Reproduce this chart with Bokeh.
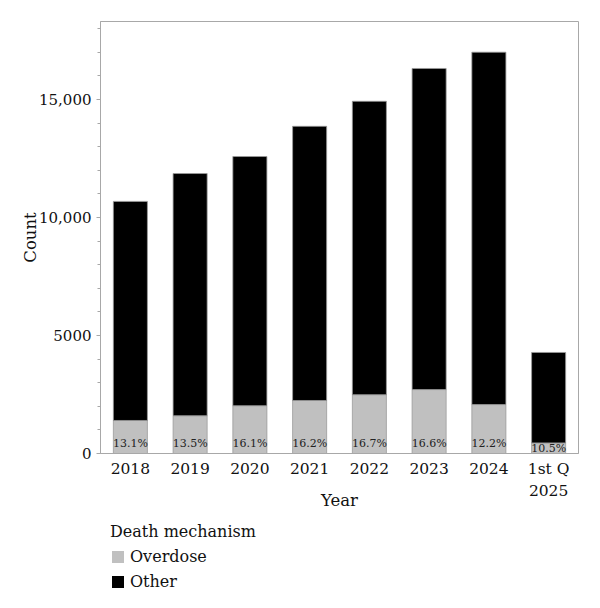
import numpy as np
from bokeh.plotting import figure
from bokeh.layouts import column
from bokeh.models import (ColumnDataSource, Range1d, FixedTicker,
                          Legend, LegendItem, LinearAxis)
from bokeh.core.properties import value
from bokeh.embed import file_html
from bokeh.resources import INLINE

years = ["2018", "2019", "2020", "2021", "2022", "2023", "2024", "1st Q 2025"]
year_line1 = ["2018", "2019", "2020", "2021", "2022", "2023", "2024", "1st Q"]
year_line2 = ["", "", "", "", "", "", "", "2025"]
totals = [10680, 11860, 12580, 13860, 14920, 16310, 17000, 4280]
overdose_pct = [13.1, 13.5, 16.1, 16.2, 16.7, 16.6, 12.2, 10.5]
pct_labels = ["13.1%", "13.5%", "16.1%", "16.2%", "16.7%", "16.6%", "12.2%", "10.5%"]
y_ticks = [0, 5000, 10000, 15000]
y_tick_labels = ["0", "5000", "10,000", "15,000"]
series = ["Overdose", "Other"]
colors = ["#c0c0c0", "#000000"]

tot = np.array(totals, dtype=float)
overdose = tot * np.array(overdose_pct) / 100.0
other = tot - overdose
xpos = np.arange(len(years))

src = ColumnDataSource(dict(
    x=xpos, year=years, Overdose=overdose, Other=other,
    label=pct_labels, ly=np.minimum(overdose / 2.0, 420.0),
))

FONT = "DejaVu Serif"
TXT = "#111111"
GRAY = "#a8a8a8"

p = figure(width=600, height=512, x_range=Range1d(-0.5, len(years) - 0.5),
           y_range=Range1d(0, 18300), output_backend="svg", toolbar_location=None,
           min_border_left=100, min_border_right=22, min_border_top=21,
           min_border_bottom=59)

rs = p.vbar_stack(series, x="x", width=0.57, color=colors, source=src,
                  line_color="#9a9a9a", line_width=0.8)

p.text(x="x", y="ly", text="label", source=src, text_align="center",
       text_baseline="middle", text_font=value(FONT), text_font_size="11px",
       text_color="#222222")

p.xgrid.visible = False
p.ygrid.visible = False
p.outline_line_color = GRAY
p.background_fill_color = "white"

# y axis
p.yaxis.ticker = FixedTicker(ticks=y_ticks, minor_ticks=list(range(0, 18001, 1000)))
p.yaxis.major_label_overrides = {t: l for t, l in zip(y_ticks, y_tick_labels)}
p.yaxis.axis_label = "Count"
p.yaxis.axis_label_standoff = -4
p.yaxis.axis_line_color = GRAY
p.yaxis.major_tick_line_color = GRAY
p.yaxis.minor_tick_line_color = GRAY
p.yaxis.major_tick_in = 0
p.yaxis.major_tick_out = 4
p.yaxis.minor_tick_in = 0
p.yaxis.minor_tick_out = 3
p.yaxis.major_label_text_font = FONT
p.yaxis.major_label_text_font_size = "15px"
p.yaxis.major_label_text_color = TXT
p.yaxis.axis_label_text_font = FONT
p.yaxis.axis_label_text_font_size = "16.5px"
p.yaxis.axis_label_text_font_style = "normal"
p.yaxis.axis_label_text_color = TXT

# x axis: first line of tick labels
xa = p.xaxis[0]
xa.ticker = FixedTicker(ticks=list(xpos), minor_ticks=[])
xa.major_label_overrides = {int(i): l for i, l in zip(xpos, year_line1)}
xa.axis_line_color = GRAY
xa.major_tick_line_color = None
xa.minor_tick_line_color = None
xa.major_label_standoff = 0
xa.major_label_text_font = FONT
xa.major_label_text_font_size = "15.5px"
xa.major_label_text_color = TXT

# second line of tick labels + axis title
xb = LinearAxis(axis_label="Year", ticker=FixedTicker(ticks=list(xpos), minor_ticks=[]))
xb.major_label_overrides = {int(i): (l if l else " ") for i, l in zip(xpos, year_line2)}
xb.axis_line_color = None
xb.major_tick_line_color = None
xb.minor_tick_line_color = None
xb.major_label_standoff = -5
xb.major_label_text_font = FONT
xb.major_label_text_font_size = "15.5px"
xb.major_label_text_color = TXT
xb.axis_label_text_font = FONT
xb.axis_label_text_font_size = "16.5px"
xb.axis_label_text_font_style = "normal"
xb.axis_label_text_color = TXT
xb.axis_label_standoff = -12
p.add_layout(xb, "below")

# legend panel below the chart (proxy renderers of zero height, used only for swatches)
p2 = figure(width=600, height=96, x_range=Range1d(0, 1), y_range=Range1d(0, 1),
            output_backend="svg", toolbar_location=None,
            min_border_left=100, min_border_right=0, min_border_top=0,
            min_border_bottom=0, outline_line_color=None)
p2.axis.visible = False
p2.xgrid.visible = False
p2.ygrid.visible = False
lrs = [p2.vbar(x=[0.5], bottom=[0], top=[0], width=0.0, fill_color=c, line_color=None)
       for c in colors]

legend = Legend(items=[LegendItem(label=s, renderers=[r]) for s, r in zip(series, lrs)],
                title="Death mechanism", location="top_left", orientation="vertical",
                border_line_color=None, background_fill_alpha=0, margin=10, padding=8,
                glyph_width=15, glyph_height=15, label_height=20, spacing=5,
                label_standoff=5, title_standoff=5)
legend.title_text_font = FONT
legend.title_text_font_size = "16px"
legend.title_text_font_style = "normal"
legend.title_text_color = TXT
legend.label_text_font = FONT
legend.label_text_font_size = "16px"
legend.label_text_color = TXT
p2.add_layout(legend)

layout = column(p, p2, spacing=0)
open("out.html", "w").write(file_html(layout, INLINE))
